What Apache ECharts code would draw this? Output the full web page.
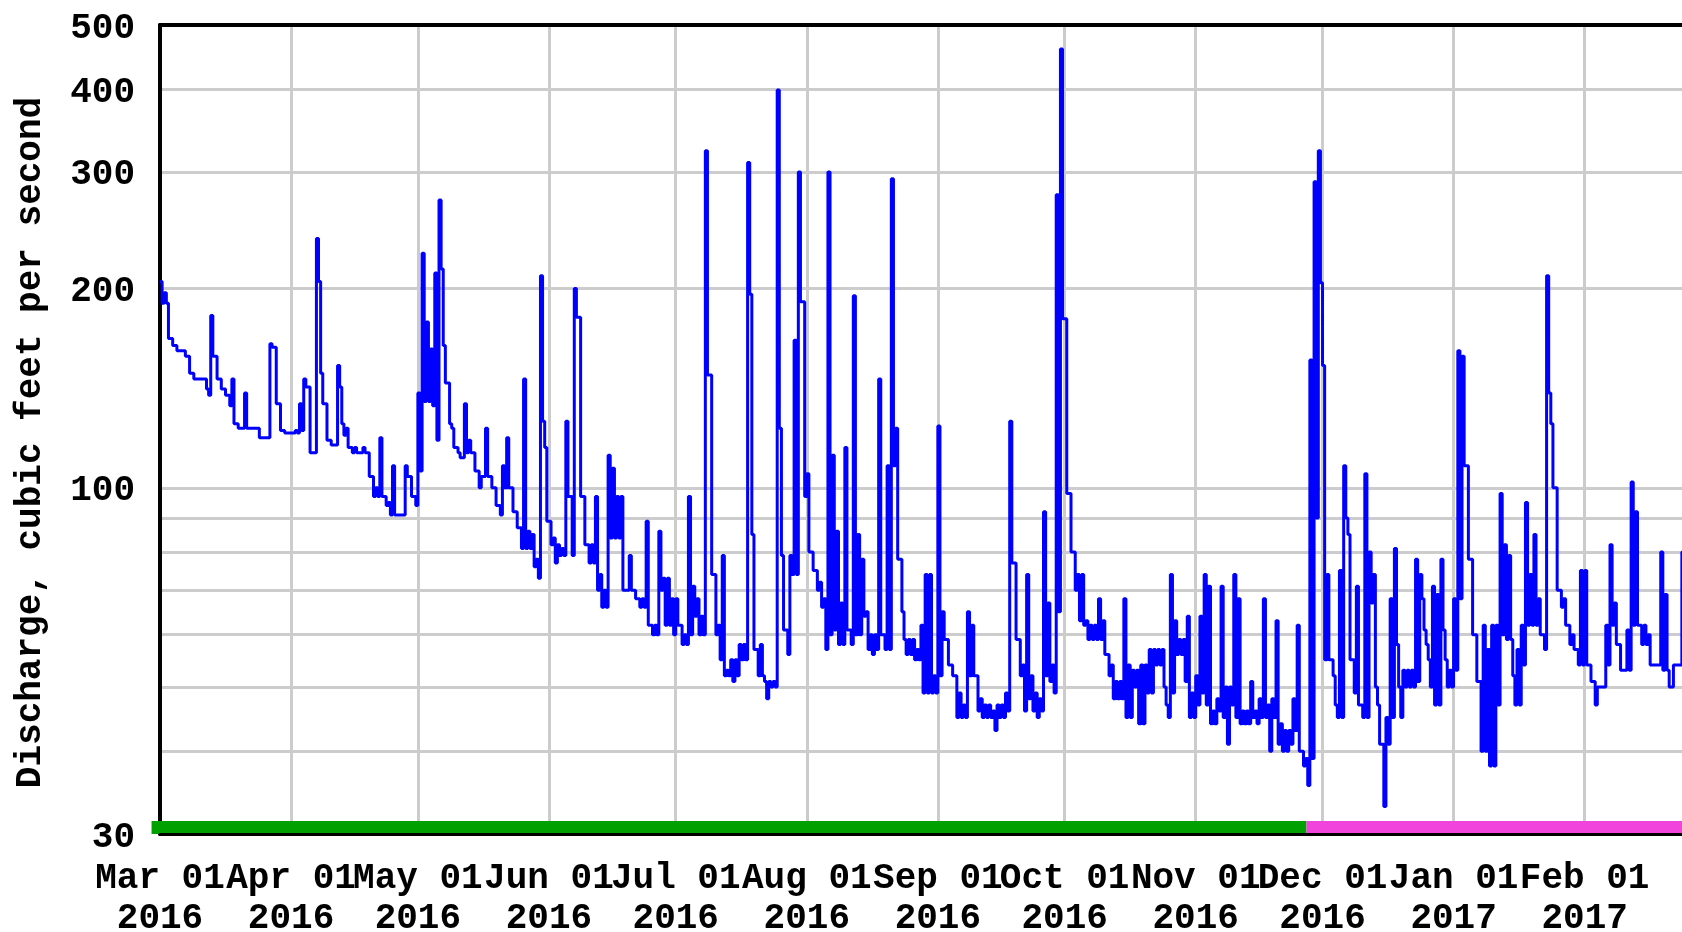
<!DOCTYPE html>
<html><head><meta charset="utf-8">
<script src="https://cdn.jsdelivr.net/npm/echarts@6/dist/echarts.min.js"></script>
<style>html,body{margin:0;padding:0;background:#fff}#c{width:1682px;height:932px}</style>
</head><body><div id="c"></div>
<script>
// Day offsets from 2016-03-01 of the first of each month
const monthTickDays = [0, 31, 61, 92, 122, 153, 184, 214, 245, 275, 306, 337];
const monthTickLabels = ['Mar 01\n2016', 'Apr 01\n2016', 'May 01\n2016', 'Jun 01\n2016', 'Jul 01\n2016', 'Aug 01\n2016',
  'Sep 01\n2016', 'Oct 01\n2016', 'Nov 01\n2016', 'Dec 01\n2016', 'Jan 01\n2017', 'Feb 01\n2017'];
const yGridValues = [30, 40, 50, 60, 70, 80, 90, 100, 200, 300, 400, 500];
const yLabelValues = [30, 100, 200, 300, 400, 500];
// Discharge (cubic feet per second), one pair per day starting 2016-03-01:
// dailyHigh = level in the first half of the day, dailyLow = level in the second half
const dailyHigh = [
  205,197,168,164,161,161,158,149,146,146,
  146,141,182,158,146,141,138,146,125,123,
  139,123,123,123,119,119,165,163,134,122,
  121,121,122,134,146,142,113,238,149,134,
  118,116,153,125,123,115,115,113,115,113,
  104,100,119,97,95,108,91,91,108,104,
  97,139,226,178,162,211,272,164,144,123,
  115,111,134,118,113,106,104,123,104,100,
  94,108,119,100,92,87,146,86,85,78,
  209,115,89,84,82,81,126,97,200,181,
  97,82,82,97,74,70,112,107,97,97,
  70,79,70,68,68,89,62,62,86,73,
  73,68,68,62,60,97,71,68,64,323,
  148,74,62,79,53,55,55,58,58,310,
  85,57,58,51,51,51,399,79,61,79,
  167,300,191,105,80,75,72,68,300,112,
  86,67,115,61,195,85,78,65,60,60,
  146,60,108,293,123,78,59,59,59,57,
  62,74,74,52,124,65,59,54,52,49,
  47,65,62,52,48,47,47,46,47,47,
  49,126,77,59,54,74,52,49,48,92,
  67,54,277,460,180,98,80,74,74,63,
  62,62,68,63,56,54,51,51,68,54,
  53,53,54,54,57,57,57,57,47,74,
  63,59,59,64,49,52,64,74,71,46,
  48,71,50,50,74,68,46,46,51,46,
  48,68,47,48,63,44,43,43,48,62,
  40,39,156,290,323,153,74,55,47,75,
  108,85,55,71,47,105,80,74,47,41,
  45,68,81,50,53,53,53,78,74,61,
  55,71,69,78,55,53,68,161,158,108,
  78,60,51,62,57,62,62,98,82,79,
  52,57,62,95,74,85,68,60,209,125,
  100,70,68,62,60,57,75,75,54,51,
  50,50,62,82,67,58,53,61,102,92,
  62,62,60,54,54,80,69,50,54,54,
  80,75
];
const dailyLow = [
  190,190,168,164,161,161,158,149,146,146,
  146,138,158,146,141,138,133,125,123,123,
  123,123,123,119,119,119,163,134,122,121,
  121,121,121,122,142,113,113,205,134,118,
  116,116,142,120,115,113,113,113,113,104,
  97,97,97,94,91,91,91,91,104,97,
  94,106,135,135,133,118,214,144,125,115,
  113,111,113,113,106,100,104,104,100,94,
  91,100,100,92,87,81,81,81,76,73,
  126,89,82,77,79,79,97,79,181,97,
  82,77,77,70,66,66,84,84,84,70,
  70,70,68,66,66,62,60,60,70,62,
  62,60,62,58,58,60,64,60,60,148,
  74,60,55,52,52,51,52,55,55,196,
  57,52,52,48,50,50,123,61,56,74,
  74,191,97,80,75,70,66,57,60,61,
  58,58,61,58,60,60,64,57,56,57,
  60,57,57,108,78,65,56,56,55,55,
  49,49,49,49,52,59,54,52,45,45,
  45,52,52,46,45,45,45,43,45,45,
  46,77,59,52,46,48,46,45,46,52,
  51,49,65,180,98,80,70,63,62,59,
  59,59,59,56,52,48,48,48,45,45,
  50,44,44,49,49,54,54,50,45,49,
  56,56,51,45,45,47,49,47,44,44,
  46,45,41,47,45,44,44,44,45,44,
  45,45,40,45,41,40,40,41,43,40,
  38,35.5,39,90,204,55,55,52,45,45,
  90,55,49,47,45,45,67,50,41,33,
  41,45,58,45,50,50,50,51,68,58,
  50,47,47,61,50,50,53,68,108,78,
  60,51,40,40,38,38,47,60,59,59,
  47,47,54,62,62,62,60,57,139,100,
  70,66,62,58,57,54,54,54,51,47,
  50,50,54,62,58,53,53,53,62,62,
  58,58,54,54,54,53,53,50,54,54,
  54,75
];
// Data-status bar segments: [startDay, endDay, kind] (0 = approved, 1 = provisional)
const statusSegments = [[-2, 271.2, 0], [271.2, 400, 1]];
const statusColors = ['#00a000', '#f044dc'];
const statusBarTop = 31.39;

const seriesData = [];
dailyHigh.forEach((h, i) => { seriesData.push([i, h]); seriesData.push([i + 0.5, dailyLow[i]]); });

const FONT = '"Liberation Mono", "DejaVu Sans Mono", monospace';
const frameAxis = (pos, w) => ({
  type: 'value', min: 0, max: 365, position: pos, z: 5,
  axisLine: { show: true, onZero: false, lineStyle: { color: '#000', width: w } },
  axisTick: { show: false }, axisLabel: { show: false }, splitLine: { show: false }
});
const chart = echarts.init(document.getElementById('c'));
chart.setOption({
  animation: false,
  backgroundColor: '#ffffff',
  grid: { left: 160, right: -21, top: 25, bottom: 98, containLabel: false, outerBoundsMode: 'none' },
  xAxis: [{
    type: 'value', min: 0, max: 365, position: 'bottom',
    axisLine: { show: false, onZero: false },
    axisTick: { show: false, customValues: monthTickDays },
    axisLabel: {
      customValues: monthTickDays, margin: 25, color: '#000',
      fontFamily: FONT, fontWeight: 'bold', fontSize: 36, lineHeight: 40,
      formatter: v => monthTickLabels[monthTickDays.indexOf(Math.round(v))] || ''
    },
    splitLine: { show: true, lineStyle: { color: '#cccccc', width: 3 } }
  }, frameAxis('top', 4), frameAxis('bottom', 3)],
  yAxis: {
    type: 'log', logBase: 10, min: 30, max: 500, offset: 3,
    name: 'Discharge, cubic feet per second', nameLocation: 'middle', nameRotate: 90, nameGap: 108,
    nameTextStyle: { fontFamily: FONT, fontWeight: 'bold', fontSize: 36, color: '#000', padding: [0, 26, 0, 0] },
    axisLine: { show: true, lineStyle: { color: '#000', width: 4 } },
    axisTick: { show: false, customValues: yGridValues },
    axisLabel: {
      customValues: yLabelValues, margin: 22, color: '#000',
      verticalAlign: 'top', lineHeight: 7,
      fontFamily: FONT, fontWeight: 'bold', fontSize: 36
    },
    splitLine: { show: true, lineStyle: { color: '#cccccc', width: 3 } }
  },
  series: [{
    type: 'line', step: 'end', showSymbol: false, z: 3,
    data: seriesData,
    lineStyle: { color: '#0000ff', width: 3 }
  }, {
    type: 'custom', clip: false, z: 4,
    data: statusSegments,
    encode: { x: [0, 1] },
    renderItem: (params, api) => {
      const a = api.coord([api.value(0), statusBarTop]);
      const b = api.coord([api.value(1), 30]);
      return { type: 'rect', shape: { x: a[0], y: a[1], width: b[0] - a[0], height: b[1] - a[1] },
        style: { fill: statusColors[api.value(2)] } };
    }
  }]
});
</script></body></html>
